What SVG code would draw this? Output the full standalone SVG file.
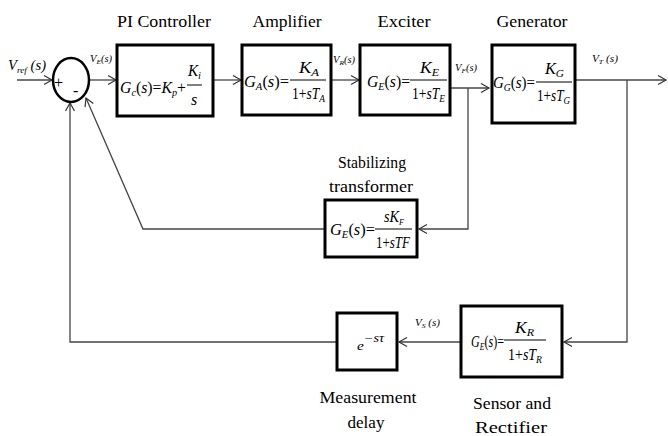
<svg xmlns="http://www.w3.org/2000/svg" width="668" height="436" viewBox="0 0 668 436">
<defs>
<marker id="arr" markerWidth="12" markerHeight="12" refX="10" refY="6" orient="auto" markerUnits="userSpaceOnUse">
<path d="M2,1.5 L10,6 L2,10.5" fill="none" stroke="#333" stroke-width="1.2"/>
</marker>
</defs>
<style>
text{font-family:Liberation Serif,Tinos,Times New Roman,DejaVu Serif,serif;fill:#000}
.title{font-size:17px;text-anchor:middle}
.f{font-size:17px}
.fn{font-size:16px;font-style:italic}
.i{font-style:italic}
.sub{font-size:11px;font-style:italic}
.sig{font-size:10px;font-style:italic}
.box{fill:#fff;stroke:#000;stroke-width:3}
.ln{fill:none;stroke:#444;stroke-width:1.3}
.bar{stroke:#000;stroke-width:1}
</style>
<rect width="668" height="436" fill="#fff"/>

<g id="connectors">
<path class="ln" d="M17,80 H52" marker-end="url(#arr)"/>
<path class="ln" d="M89,80 H116" marker-end="url(#arr)"/>
<path class="ln" d="M214,80 H241" marker-end="url(#arr)"/>
<path class="ln" d="M332,80 H359" marker-end="url(#arr)"/>
<path class="ln" d="M451,88 H489" marker-end="url(#arr)"/>
<path class="ln" d="M468,88 V229 H419" marker-end="url(#arr)"/>
<path class="ln" d="M324,229 H143 L86,98" marker-end="url(#arr)"/>
<path class="ln" d="M576,80 H666" marker-end="url(#arr)"/>
<path class="ln" d="M627,80 V342 H564" marker-end="url(#arr)"/>
<path class="ln" d="M460,342 H399" marker-end="url(#arr)"/>
<path class="ln" d="M336,342 H70 V103" marker-end="url(#arr)"/>
</g>

<g id="signals">
<text x="8" y="70" class="i" font-size="14" textLength="38" lengthAdjust="spacingAndGlyphs">V<tspan font-size="9" dy="3">ref</tspan><tspan dy="-3" font-size="14"> (s)</tspan></text>
<text x="90" y="62" class="sig" textLength="22" lengthAdjust="spacingAndGlyphs">V<tspan font-size="7" dy="2">E</tspan><tspan dy="-2">(s)</tspan></text>
<text x="333" y="63" class="sig" textLength="22" lengthAdjust="spacingAndGlyphs">V<tspan font-size="7" dy="2">R</tspan><tspan dy="-2">(s)</tspan></text>
<text x="455" y="71" class="sig" textLength="22" lengthAdjust="spacingAndGlyphs">V<tspan font-size="7" dy="2">F</tspan><tspan dy="-2">(s)</tspan></text>
<text x="592" y="62" class="sig" textLength="26" lengthAdjust="spacingAndGlyphs">V<tspan font-size="7" dy="2">T</tspan><tspan dy="-2"> (s)</tspan></text>
<text x="415" y="326" class="sig" textLength="25" lengthAdjust="spacingAndGlyphs">V<tspan font-size="7" dy="2">S</tspan><tspan dy="-2"> (s)</tspan></text>
</g>

<g id="sum">
<ellipse cx="71" cy="80" rx="18" ry="22" fill="#fff" stroke="#000" stroke-width="2.5"/>
<text x="54" y="88" font-size="16">+</text>
<text x="73" y="96" font-size="16">-</text>
</g>

<g id="pi">
<text class="title" x="164" y="27" textLength="94" lengthAdjust="spacingAndGlyphs">PI Controller</text>
<rect class="box" x="117" y="45" width="96" height="71"/>
<text x="120" y="93" class="f" textLength="66" lengthAdjust="spacingAndGlyphs"><tspan class="i">G</tspan><tspan class="sub" dy="3">c</tspan><tspan dy="-3">(</tspan><tspan class="i">s</tspan>)=<tspan class="i">K</tspan><tspan class="sub" dy="3">p</tspan><tspan dy="-3">+</tspan></text>
<text x="188" y="76" class="fn" textLength="13" lengthAdjust="spacingAndGlyphs">K<tspan class="sub" dy="3">i</tspan></text>
<line class="bar" x1="187" y1="85" x2="202" y2="85"/>
<text x="194" y="105" class="fn" text-anchor="middle">s</text>
</g>

<g id="amp">
<text class="title" x="287" y="27" textLength="69" lengthAdjust="spacingAndGlyphs">Amplifier</text>
<rect class="box" x="242" y="45" width="89" height="70"/>
<text x="244" y="87" class="f" textLength="45" lengthAdjust="spacingAndGlyphs"><tspan class="i">G</tspan><tspan class="sub" dy="3">A</tspan><tspan dy="-3">(</tspan><tspan class="i">s</tspan>)=</text>
<text x="299" y="73" class="fn" textLength="20" lengthAdjust="spacingAndGlyphs">K<tspan class="sub" dy="3">A</tspan></text>
<line class="bar" x1="290" y1="80" x2="326" y2="80"/>
<text x="292" y="99" class="fn" textLength="33" lengthAdjust="spacingAndGlyphs"><tspan font-style="normal">1+</tspan>sT<tspan class="sub" dy="3">A</tspan></text>
</g>

<g id="exciter">
<text class="title" x="404" y="27" textLength="53" lengthAdjust="spacingAndGlyphs">Exciter</text>
<rect class="box" x="360" y="45" width="90" height="70"/>
<text x="367" y="87" class="f" textLength="43" lengthAdjust="spacingAndGlyphs"><tspan class="i">G</tspan><tspan class="sub" dy="3">E</tspan><tspan dy="-3">(</tspan><tspan class="i">s</tspan>)=</text>
<text x="420" y="73" class="fn" textLength="19" lengthAdjust="spacingAndGlyphs">K<tspan class="sub" dy="3">E</tspan></text>
<line class="bar" x1="410" y1="80" x2="447" y2="80"/>
<text x="412" y="99" class="fn" textLength="33" lengthAdjust="spacingAndGlyphs"><tspan font-style="normal">1+</tspan>sT<tspan class="sub" dy="3">E</tspan></text>
</g>

<g id="generator">
<text class="title" x="532" y="27" textLength="71" lengthAdjust="spacingAndGlyphs">Generator</text>
<rect class="box" x="492" y="45" width="83" height="78"/>
<text x="493" y="88" class="f" textLength="42" lengthAdjust="spacingAndGlyphs"><tspan class="i">G</tspan><tspan class="sub" dy="3">G</tspan><tspan dy="-3">(</tspan><tspan class="i">s</tspan>)=</text>
<text x="545" y="74" class="fn" textLength="19" lengthAdjust="spacingAndGlyphs">K<tspan class="sub" dy="3">G</tspan></text>
<line class="bar" x1="536" y1="82" x2="572" y2="82"/>
<text x="537" y="101" class="fn" textLength="33" lengthAdjust="spacingAndGlyphs"><tspan font-style="normal">1+</tspan>sT<tspan class="sub" dy="3">G</tspan></text>
</g>

<g id="stabilizer">
<text class="title" x="372" y="168" textLength="68" lengthAdjust="spacingAndGlyphs">Stabilizing</text>
<text class="title" x="371" y="192" textLength="84" lengthAdjust="spacingAndGlyphs">transformer</text>
<rect class="box" x="325" y="200" width="92" height="57"/>
<text x="330" y="235" class="f" textLength="45" lengthAdjust="spacingAndGlyphs"><tspan class="i">G</tspan><tspan class="sub" dy="3">E</tspan><tspan dy="-3">(</tspan><tspan class="i">s</tspan>)=</text>
<text x="384" y="222" class="fn" font-size="14" textLength="20" lengthAdjust="spacingAndGlyphs">sK<tspan font-size="9" dy="3">F</tspan></text>
<line class="bar" x1="375" y1="229" x2="412" y2="229"/>
<text x="376" y="248" class="fn" font-size="14" textLength="34" lengthAdjust="spacingAndGlyphs"><tspan font-style="normal">1+</tspan>sTF</text>
</g>

<g id="sensor">
<rect class="box" x="461" y="306" width="101" height="71"/>
<text x="471" y="347" class="f" textLength="33" lengthAdjust="spacingAndGlyphs"><tspan class="i">G</tspan><tspan class="sub" dy="3">E</tspan><tspan dy="-3">(</tspan><tspan class="i">s</tspan>)=</text>
<text x="515" y="333" class="fn" textLength="19" lengthAdjust="spacingAndGlyphs">K<tspan class="sub" dy="3">R</tspan></text>
<line class="bar" x1="504" y1="340" x2="546" y2="340"/>
<text x="508" y="360" class="fn" textLength="34" lengthAdjust="spacingAndGlyphs"><tspan font-style="normal">1+</tspan>sT<tspan class="sub" dy="3">R</tspan></text>
<text class="title" x="512" y="409" textLength="78" lengthAdjust="spacingAndGlyphs">Sensor and</text>
<text class="title" x="511" y="433" textLength="72" lengthAdjust="spacingAndGlyphs">Rectifier</text>
</g>

<g id="delay">
<rect class="box" x="337" y="313" width="60" height="57"/>
<text x="357" y="350" class="i" font-size="13" textLength="27" lengthAdjust="spacingAndGlyphs">e<tspan dy="-8" font-size="12">−sτ</tspan></text>
<text class="title" x="368" y="403" textLength="97" lengthAdjust="spacingAndGlyphs">Measurement</text>
<text class="title" x="366" y="428" textLength="37" lengthAdjust="spacingAndGlyphs">delay</text>
</g>
</svg>
